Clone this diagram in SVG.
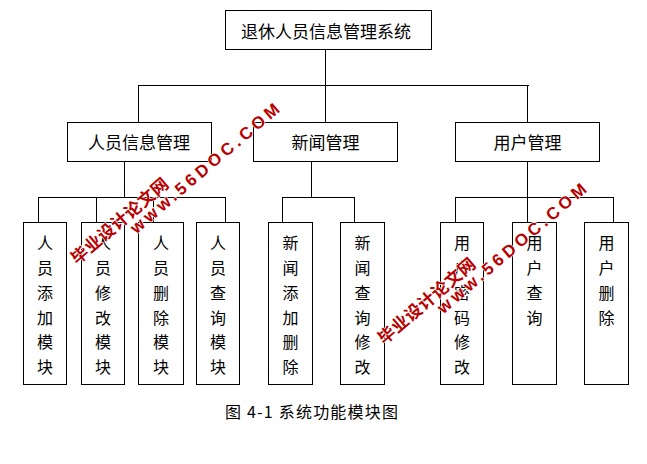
<svg xmlns="http://www.w3.org/2000/svg" width="647" height="464" viewBox="0 0 647 464">
<style>
.box{fill:#fff;stroke:#000;stroke-width:1;shape-rendering:crispEdges}
.ln{fill:none;stroke:#000;stroke-width:1;shape-rendering:crispEdges}
.t{font-family:"Noto Sans CJK SC","Noto Sans",sans-serif;fill:#000;text-anchor:middle;dominant-baseline:central}
.t17{font-size:17px}
.t16{font-size:16px}
.wm{font-family:"Liberation Sans","Noto Sans CJK SC",sans-serif;font-weight:bold;fill:#b80000;stroke:#fff;stroke-width:1.2;paint-order:stroke;text-anchor:middle;dominant-baseline:central}
</style>
<defs>
<g id="watermark">
<text class="wm" x="0" y="0" font-size="17" textLength="190" lengthAdjust="spacing">www.56DOC.COM</text>
<text class="wm" x="-99" y="-17" font-size="17" textLength="122" lengthAdjust="spacing" style="font-family:'Noto Sans CJK SC',sans-serif">毕业设计论文网</text>
</g>
</defs>
<rect width="647" height="464" fill="#fff"/>
<g id="connectors">
<path class="ln" d="M325.5,49V122M138.5,85.5H528.5M138.5,85V122M527.5,85V122"/>
<path class="ln" d="M124.5,161V197.5M38.5,197.5H225.5M38.5,197V222M96.5,197V222M153.5,197V222M225.5,197V222"/>
<path class="ln" d="M311.5,161V197.5M282.5,197.5H354.5M282.5,197V222M354.5,197V222"/>
<path class="ln" d="M527.5,161V222M455.5,197.5H613.5M455.5,197V222M613.5,197V222"/>
</g>
<g id="root">
<rect class="box" x="225.5" y="10.5" width="206" height="39"/>
<text class="t t17" x="326" y="30">退休人员信息管理系统</text>
</g>
<g id="n-person">
<rect class="box" x="67.5" y="122.5" width="144" height="39"/>
<text class="t t17" x="139" y="141.5">人员信息管理</text>
</g>
<g id="n-news">
<rect class="box" x="253.5" y="122.5" width="144" height="39"/>
<text class="t t17" x="325.5" y="141.5">新闻管理</text>
</g>
<g id="n-user">
<rect class="box" x="455.5" y="122.5" width="144" height="39"/>
<text class="t t17" x="527.5" y="141.5">用户管理</text>
</g>
<g id="l1">
<rect class="box" x="23.5" y="222.5" width="43" height="162"/>
<text class="t t16"><tspan x="45" y="242">人</tspan><tspan x="45" y="267">员</tspan><tspan x="45" y="292">添</tspan><tspan x="45" y="317">加</tspan><tspan x="45" y="341">模</tspan><tspan x="45" y="366">块</tspan></text>
</g>
<g id="l2">
<rect class="box" x="81.5" y="222.5" width="43" height="162"/>
<text class="t t16"><tspan x="103" y="242">人</tspan><tspan x="103" y="267">员</tspan><tspan x="103" y="292">修</tspan><tspan x="103" y="317">改</tspan><tspan x="103" y="341">模</tspan><tspan x="103" y="366">块</tspan></text>
</g>
<g id="l3">
<rect class="box" x="138.5" y="222.5" width="45" height="162"/>
<text class="t t16"><tspan x="161" y="242">人</tspan><tspan x="161" y="267">员</tspan><tspan x="161" y="292">删</tspan><tspan x="161" y="317">除</tspan><tspan x="161" y="341">模</tspan><tspan x="161" y="366">块</tspan></text>
</g>
<g id="l4">
<rect class="box" x="196.5" y="222.5" width="43" height="162"/>
<text class="t t16"><tspan x="218" y="242">人</tspan><tspan x="218" y="267">员</tspan><tspan x="218" y="292">查</tspan><tspan x="218" y="317">询</tspan><tspan x="218" y="341">模</tspan><tspan x="218" y="366">块</tspan></text>
</g>
<g id="l5">
<rect class="box" x="268.5" y="222.5" width="44" height="162"/>
<text class="t t16"><tspan x="290.5" y="242">新</tspan><tspan x="290.5" y="267">闻</tspan><tspan x="290.5" y="292">添</tspan><tspan x="290.5" y="317">加</tspan><tspan x="290.5" y="341">删</tspan><tspan x="290.5" y="366">除</tspan></text>
</g>
<g id="l6">
<rect class="box" x="340.5" y="222.5" width="44" height="162"/>
<text class="t t16"><tspan x="362.5" y="242">新</tspan><tspan x="362.5" y="267">闻</tspan><tspan x="362.5" y="292">查</tspan><tspan x="362.5" y="317">询</tspan><tspan x="362.5" y="341">修</tspan><tspan x="362.5" y="366">改</tspan></text>
</g>
<g id="l7">
<rect class="box" x="440.5" y="222.5" width="43" height="162"/>
<text class="t t16"><tspan x="462" y="242">用</tspan><tspan x="462" y="267">户</tspan><tspan x="462" y="292">密</tspan><tspan x="462" y="317">码</tspan><tspan x="462" y="341">修</tspan><tspan x="462" y="366">改</tspan></text>
</g>
<g id="l8">
<rect class="box" x="512.5" y="222.5" width="44" height="162"/>
<text class="t t16"><tspan x="534.5" y="242">用</tspan><tspan x="534.5" y="267">户</tspan><tspan x="534.5" y="292">查</tspan><tspan x="534.5" y="317">询</tspan></text>
</g>
<g id="l9">
<rect class="box" x="584.5" y="222.5" width="44" height="162"/>
<text class="t t16"><tspan x="606.5" y="242">用</tspan><tspan x="606.5" y="267">户</tspan><tspan x="606.5" y="292">删</tspan><tspan x="606.5" y="317">除</tspan></text>
</g>
<text class="t t16" x="311.5" y="411" textLength="173" lengthAdjust="spacing">图 4-1 系统功能模块图</text>
<use href="#watermark" transform="translate(205,168.5) rotate(-40.5)"/>
<use href="#watermark" transform="translate(512,248.5) rotate(-40.5)"/>
</svg>
